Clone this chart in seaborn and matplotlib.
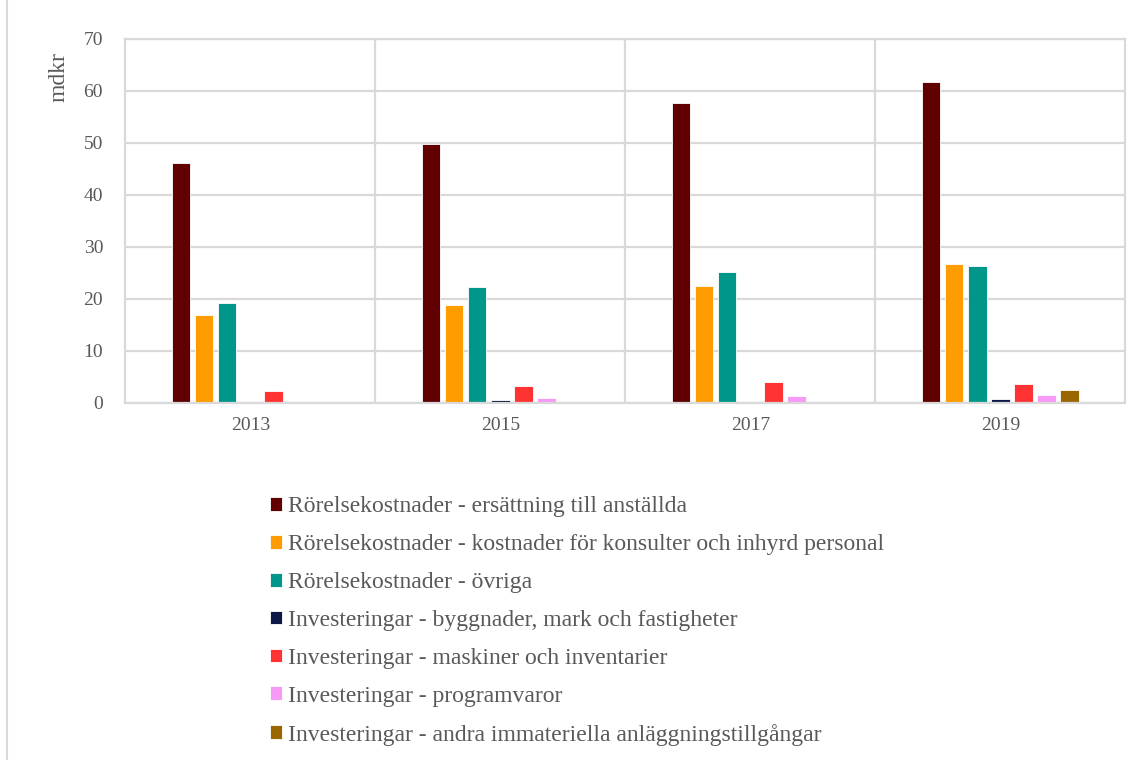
import numpy as np
import pandas as pd
import matplotlib.pyplot as plt
import seaborn as sns
from matplotlib.patches import Rectangle

years = ['2013', '2015', '2017', '2019']
series = [
    'Rörelsekostnader - ersättning till anställda',
    'Rörelsekostnader - kostnader för konsulter och inhyrd personal',
    'Rörelsekostnader - övriga',
    'Investeringar - byggnader, mark och fastigheter',
    'Investeringar - maskiner och inventarier',
    'Investeringar - programvaror',
    'Investeringar - andra immateriella anläggningstillgångar',
]
ersattning = [46.1, 49.8, 57.6, 61.6]
konsulter = [16.9, 18.9, 22.4, 26.6]
ovriga = [19.2, 22.2, 25.1, 26.4]
byggnader = [np.nan, 0.5, np.nan, 0.75]
maskiner = [2.2, 3.2, 4.0, 3.6]
programvaror = [np.nan, 0.9, 1.4, 1.5]
immateriella = [np.nan, np.nan, np.nan, 2.5]
colors = ['#600000', '#FF9C00', '#00968A', '#0D1848', '#FF3333', '#F799F7', '#996600']

values = [ersattning, konsulter, ovriga, byggnader, maskiner, programvaror, immateriella]
rows = []
for name, vals in zip(series, values):
    for y, v in zip(years, vals):
        rows.append({'year': y, 'serie': name, 'mdkr': v})
df = pd.DataFrame(rows)

sns.set_style('white')
plt.rcParams['font.family'] = ['Liberation Serif', 'DejaVu Serif']

fig = plt.figure(figsize=(11.39, 7.6), dpi=100)
ax = fig.add_axes([0.110, 0.470, 0.878, 0.479])

sns.barplot(data=df, x='year', y='mdkr', hue='serie', order=years, hue_order=series,
            palette=colors, saturation=1, width=0.645, gap=0.2, edgecolor='white',
            linewidth=0.6, errorbar=None, ax=ax)

grid_col = '#D9D9D9'
ax.set_ylim(0, 70)
ax.set_xlim(-0.5, 3.5)
ax.set_yticks(range(0, 71, 10))
ax.set_xticks([0.5, 1.5, 2.5], minor=True)
ax.grid(axis='y', which='major', color=grid_col, linewidth=1.6)
ax.grid(axis='x', which='minor', color=grid_col, linewidth=1.6)
ax.set_axisbelow(True)
for s in ax.spines.values():
    s.set_color(grid_col)
    s.set_linewidth(1.6)
ax.tick_params(axis='both', which='both', length=0, colors='#595959', labelsize=14)
ax.tick_params(axis='y', pad=16)
ax.tick_params(axis='x', pad=10)
ax.set_xlabel('')
ax.set_ylabel('mdkr', fontsize=17, color='#595959')
ax.yaxis.set_label_coords(-0.056, 0.896)

handles, labels = ax.get_legend_handles_labels()
ax.get_legend().remove()
fig.legend(handles, labels, loc='upper left', bbox_to_anchor=(0.237, 0.347),
           frameon=False, fontsize=17, labelcolor='#595959', handlelength=0.52,
           handleheight=0.52, handletextpad=0.25, labelspacing=0.715, borderaxespad=0,
           borderpad=0)

fig.patches.append(Rectangle((0.006, -0.01), 1.0, 1.02, transform=fig.transFigure,
                             fill=False, edgecolor='#D9D9D9', linewidth=1.5))

fig.savefig('out.png', dpi=100)
